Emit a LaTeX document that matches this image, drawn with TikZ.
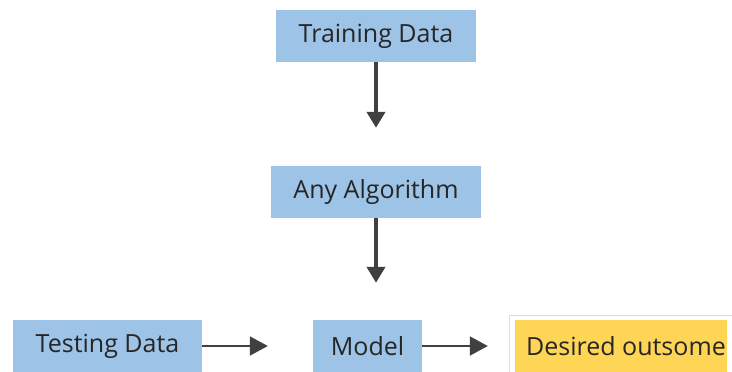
\documentclass[tikz,border=0pt]{standalone}
\usepackage{fontspec}
\setmainfont{Open Sans}
\usetikzlibrary{arrows.meta}
\definecolor{boxblue}{HTML}{9DC3E6}
\definecolor{boxgold}{HTML}{FFD556}
\definecolor{goldline}{HTML}{FFDD77}
\definecolor{txt}{HTML}{262626}
\definecolor{arr}{HTML}{404040}
\tikzset{
  blk/.style={rectangle, fill=boxblue, minimum height=52bp, inner sep=0pt, text=txt, font=\fontsize{25bp}{29bp}\selectfont},
  outbox/.style={blk, fill=boxgold},
  varrow/.style={draw=arr, line width=4bp, -{Triangle[width=18bp,length=16bp]}},
  harrow/.style={draw=arr, line width=2bp, -{Triangle[width=19bp,length=18bp]}}
}
\begin{document}
\begin{tikzpicture}[x=1bp,y=-1bp]
\useasboundingbox (0,0) rectangle (732,371);
\begin{scope}
\clip (0,0) rectangle (732,371);
\node[blk, minimum width=200bp] (train) at (376,36) {Training Data};
\node[blk, minimum width=210bp] (algo) at (376,192) {Any Algorithm};
\node[blk, minimum width=189bp] (test) at (107.5,346) {Testing Data};
\node[blk, minimum width=109bp] (model) at (367.5,346) {Model};
\node[outbox, minimum width=212bp] (out) at (621,346) {\hspace*{10bp}Desired outsome};
\draw[goldline, line width=1.2bp] ([shift={(-5,-4)}]out.north west) rectangle ([shift={(5,4)}]out.south east);
\draw[varrow, shorten >=38bp] (train.south) -- (algo.north);
\draw[varrow, shorten >=37bp] (algo.south) -- (algo.south |- model.north);
\draw[harrow, shorten >=45bp] (test.east) -- (model.west);
\draw[harrow, shorten >=27bp] (model.east) -- (out.west);
\end{scope}
\end{tikzpicture}
\end{document}
